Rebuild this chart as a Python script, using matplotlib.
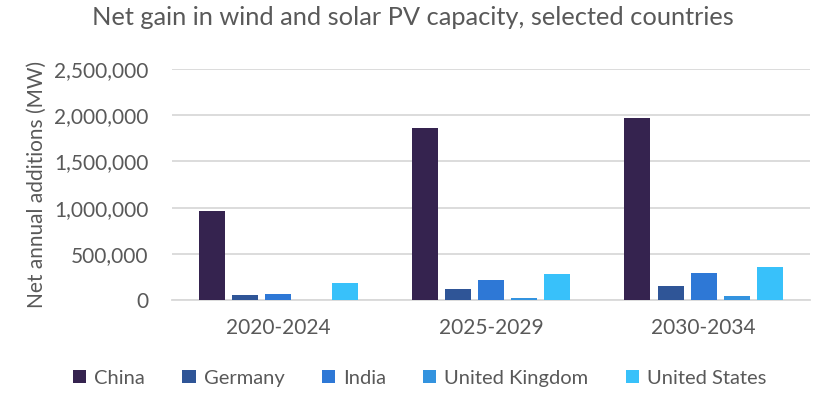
import numpy as np
import matplotlib.pyplot as plt
from matplotlib.ticker import FuncFormatter

periods = ["2020-2024", "2025-2029", "2030-2034"]
countries = ["China", "Germany", "India", "United Kingdom", "United States"]
china = [960000, 1860000, 1970000]
germany = [58000, 120000, 150000]
india = [68000, 215000, 290000]
uk = [5000, 25000, 45000]
us = [185000, 280000, 355000]
colors = ["#35234F", "#2F5597", "#2E78D6", "#3393DF", "#38C1FA"]

plt.rcParams['font.family'] = ['Lato', 'DejaVu Sans']
txt = "#595959"

fig = plt.figure(figsize=(8.15, 3.99), dpi=100)
ax = fig.add_axes([0.211, 0.248, 0.783, 0.579])

x = np.arange(len(periods))
series = [china, germany, india, uk, us]
step = 0.156
for i, vals in enumerate(series):
    ax.bar(x + (i - 2) * step, vals, width=0.122, color=colors[i], label=countries[i], zorder=3)

ax.set_xlim(-0.5, 2.5)
ax.set_ylim(0, 2500000)
ax.set_yticks(np.arange(0, 2500001, 500000))
ax.yaxis.set_major_formatter(FuncFormatter(lambda v, p: f"{int(v):,}"))
ax.grid(axis='y', color='#D9D9D9', linewidth=1.3, zorder=0)
for s in ['top', 'right', 'left']:
    ax.spines[s].set_visible(False)
ax.spines['bottom'].set_color('#D9D9D9')
ax.spines['bottom'].set_linewidth(1.3)
ax.tick_params(axis='both', length=0, labelsize=15, colors=txt)
ax.tick_params(axis='y', pad=17)
ax.tick_params(axis='x', pad=13)
ax.set_xticks(x)
ax.set_xticklabels(periods)
ax.set_ylabel("Net annual additions (MW)", fontsize=15, color=txt, labelpad=5)

fig.suptitle("Net gain in wind and solar PV capacity, selected countries", fontsize=18.3, color=txt, y=0.985, x=0.507)

fig.legend(loc='center', bbox_to_anchor=(0.515, 0.052), ncol=5, frameon=False, fontsize=14.5,
           handlelength=0.65, handleheight=0.65, handletextpad=0.4, columnspacing=1.85, labelcolor=txt)

fig.savefig("out.png", dpi=100)
